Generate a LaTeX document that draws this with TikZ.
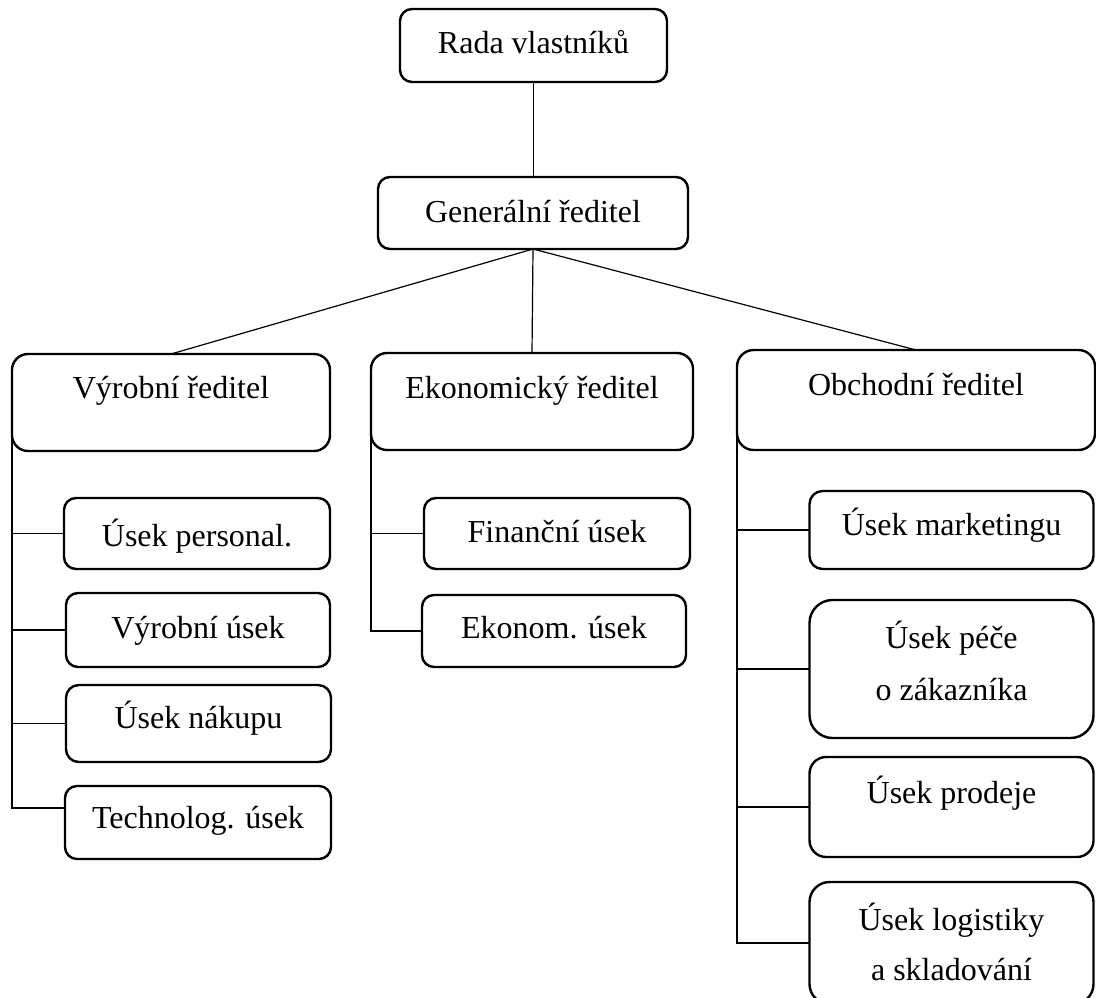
\documentclass[tikz,border=0pt]{standalone}
\usepackage{fontspec}
\setmainfont{Liberation Serif}
\usetikzlibrary{calc}
\begin{document}
\begin{tikzpicture}[x=0.5pt,y=-0.5pt,
  box/.style={draw, line width=1.2pt, inner sep=0pt, outer sep=0pt, anchor=north,
              font=\fontsize{16pt}{19pt}\selectfont},
  link/.style={line width=0.6pt, line cap=round}]
\useasboundingbox (0,0) rectangle (1096,997);
\clip (0,0) rectangle (1096,997);
% top levels
\node[box, minimum width=133.5pt, text height=22pt, text depth=14.5pt, rounded corners=6pt] (rada) at (533.5,9) {Rada vlastníků};
\node[box, minimum width=155pt, text height=22.5pt, text depth=13.5pt, rounded corners=6pt] (gen) at (533,177) {Generální ředitel};
\node[box, minimum width=159pt, text height=22pt, text depth=26.5pt, rounded corners=8pt] (vr) at (171,354) {Výrobní ředitel};
\node[box, minimum width=161pt, text height=22.5pt, text depth=26pt, rounded corners=8pt] (er) at (532,353) {Ekonomický ředitel};
\node[box, minimum width=179pt, text height=22.5pt, text depth=27.5pt, rounded corners=8.3pt] (or) at (916,350) {Obchodní ředitel};
% production
\node[box, minimum width=133pt, text height=24pt, text depth=11.5pt, rounded corners=6pt] (up) at (197,498) {Úsek personal.};
\node[box, minimum width=132pt, text height=22.5pt, text depth=14.5pt, rounded corners=6pt] (vu) at (198,593) {Výrobní úsek};
\node[box, minimum width=132.5pt, text height=21.5pt, text depth=17pt, rounded corners=6.4pt] (un) at (198.5,685) {Úsek nákupu};
\node[box, minimum width=133pt, text height=21pt, text depth=15.5pt, rounded corners=6pt] (tu) at (198,786) {Technolog. úsek};
% economy
\node[box, minimum width=133pt, text height=22pt, text depth=13.5pt, rounded corners=6pt] (fu) at (557,498) {Finanční úsek};
\node[box, minimum width=132pt, text height=21.5pt, text depth=14.5pt, rounded corners=6pt] (eu) at (554,595) {Ekonom. úsek};
% trade
\node[box, minimum width=142pt, text height=22pt, text depth=17pt, rounded corners=6.5pt] (um) at (951.5,491) {Úsek marketingu};
\node[box, minimum width=142pt, text height=24pt, text depth=45pt, rounded corners=11.5pt] (upz) at (951.5,600)
  {\begin{tabular}[t]{@{}c@{}}Úsek péče\\[7pt]o zákazníka\end{tabular}};
\node[box, minimum width=142pt, text height=23pt, text depth=27pt, rounded corners=8.3pt] (upr) at (951.5,757) {Úsek prodeje};
\node[box, minimum width=142pt, text height=24pt, text depth=37pt, rounded corners=10pt] (ul) at (951.5,882)
  {\begin{tabular}[t]{@{}c@{}}Úsek logistiky\\[6pt]a skladování\end{tabular}};
% connectors
\coordinate (tuc) at ([yshift=7.25pt]tu.west);
\draw[link] (rada.south) -- (rada.south |- gen.north);
\draw[link] (gen.south) -- (vr.north);
\draw[link] (gen.south) -- (er.north);
\draw[link] (gen.south) -- (or.north);
\draw[link] (vr.west) -- (vr.west |- tuc) -- (tuc);
\draw[link] (vr.west |- up.west) -- (up.west);
\draw[link] (vr.west |- vu.west) -- (vu.west);
\draw[link] (vr.west |- un.west) -- (un.west);
\draw[link] (er.west) -- (er.west |- eu.west) -- (eu.west);
\draw[link] (er.west |- fu.west) -- (fu.west);
\draw[link] (or.west) -- (or.west |- ul.west) -- (ul.west);
\draw[link] (or.west |- um.west) -- (um.west);
\draw[link] (or.west |- upz.west) -- (upz.west);
\draw[link] (or.west |- upr.west) -- (upr.west);
\end{tikzpicture}
\end{document}
